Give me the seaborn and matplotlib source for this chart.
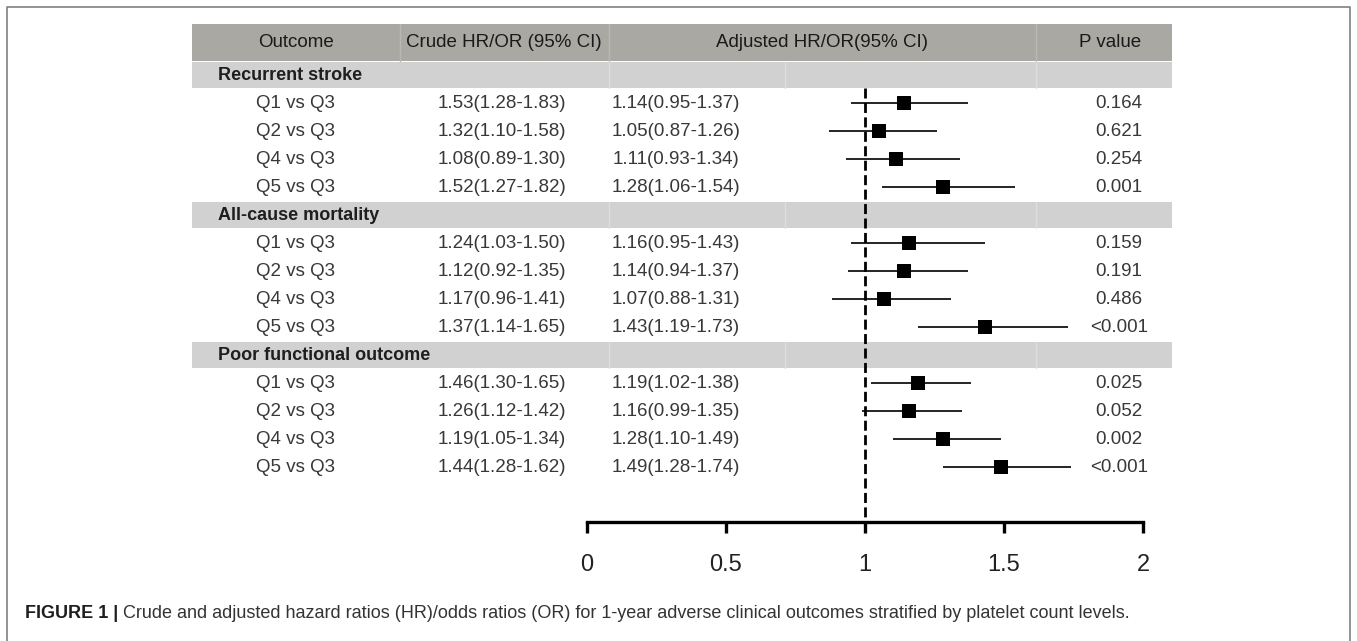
import numpy as np
import pandas as pd
import matplotlib
matplotlib.use("Agg")
import matplotlib.pyplot as plt
import seaborn as sns

# datos
groups = ["Recurrent stroke", "All-cause mortality", "Poor functional outcome"]
comparisons = ["Q1 vs Q3", "Q2 vs Q3", "Q4 vs Q3", "Q5 vs Q3"]
headers = ["Outcome", "Crude HR/OR (95% CI)", "Adjusted HR/OR(95% CI)", "P value"]

crude_hr = [1.53, 1.32, 1.08, 1.52, 1.24, 1.12, 1.17, 1.37, 1.46, 1.26, 1.19, 1.44]
crude_lo = [1.28, 1.10, 0.89, 1.27, 1.03, 0.92, 0.96, 1.14, 1.30, 1.12, 1.05, 1.28]
crude_hi = [1.83, 1.58, 1.30, 1.82, 1.50, 1.35, 1.41, 1.65, 1.65, 1.42, 1.34, 1.62]

adj_hr = [1.14, 1.05, 1.11, 1.28, 1.16, 1.14, 1.07, 1.43, 1.19, 1.16, 1.28, 1.49]
adj_lo = [0.95, 0.87, 0.93, 1.06, 0.95, 0.94, 0.88, 1.19, 1.02, 0.99, 1.10, 1.28]
adj_hi = [1.37, 1.26, 1.34, 1.54, 1.43, 1.37, 1.31, 1.73, 1.38, 1.35, 1.49, 1.74]

p_values = ["0.164", "0.621", "0.254", "0.001",
            "0.159", "0.191", "0.486", "<0.001",
            "0.025", "0.052", "0.002", "<0.001"]

x_ticks = [0, 0.5, 1, 1.5, 2]
caption_bold = "FIGURE 1 |"
caption_text = ("Crude and adjusted hazard ratios (HR)/odds ratios (OR) for 1-year adverse "
                "clinical outcomes stratified by platelet count levels.")

sns.set_theme(style="white")
plt.rcParams["font.family"] = ["Liberation Sans", "DejaVu Sans"]

W, H = 1357, 641
fig = plt.figure(figsize=(W / 100, H / 100), dpi=100)
ax = fig.add_axes([0, 0, 1, 1])
ax.set_xlim(0, W)
ax.set_ylim(H, 0)
ax.axis("off")

# posiciones verticales: filas de 28 px, la fila de grupo cuenta como una mas
step = 28
group_y = []
row_y = []
i = 0
for g in groups:
    group_y.append(75 + step * i)
    i += 1
    for c in comparisons:
        row_y.append(75 + step * i)
        i += 1
axis_y = 522

df = pd.DataFrame({
    "group": np.repeat(groups, 4),
    "comp": comparisons * 3,
    "crude": crude_hr, "crude_lo": crude_lo, "crude_hi": crude_hi,
    "adj": adj_hr, "adj_lo": adj_lo, "adj_hi": adj_hi,
    "p": p_values, "y": row_y,
})

tbl_l, tbl_r = 192, 1172
dark = "#a9a8a3"
light = "#d1d1d1"
txt = "#383838"

# cabecera
ax.fill_between([tbl_l, tbl_r], 24, 61, color=dark, lw=0)
for sx in [400, 609, 1036]:
    ax.plot([sx, sx], [24, 61], color="#b9b8b4", lw=1)
head_x = [296, 504, 822, 1110]
for hx, h in zip(head_x, headers):
    ax.text(hx, 42.5, h, ha="center", va="center", fontsize=13.5, color="#1a1a1a")

# filas de grupo
for gy, g in zip(group_y, groups):
    ax.fill_between([tbl_l, tbl_r], gy - 13, gy + 13, color=light, lw=0)
    for sx in [609, 785, 1036]:
        ax.plot([sx, sx], [gy - 13, gy + 13], color="#dedede", lw=1)
    ax.text(218, gy, g, ha="left", va="center", fontsize=13, fontweight="bold",
            color="#1e1e1e")

# texto de la tabla
for _, r in df.iterrows():
    ax.text(295, r["y"], r["comp"], ha="center", va="center", fontsize=13.5, color=txt)
    ax.text(502, r["y"], f"{r['crude']:.2f}({r['crude_lo']:.2f}-{r['crude_hi']:.2f})",
            ha="center", va="center", fontsize=13.5, color=txt)
    ax.text(676, r["y"], f"{r['adj']:.2f}({r['adj_lo']:.2f}-{r['adj_hi']:.2f})",
            ha="center", va="center", fontsize=13.5, color=txt)
    ax.text(1119, r["y"], r["p"], ha="center", va="center", fontsize=13.5, color=txt)

# marco exterior y pie de figura
ax.plot([7, 7, 1350, 1350], [H, 7, 7, H], color="#808080", lw=1.2)
t1 = ax.text(25, 614, caption_bold, ha="left", va="center", fontsize=13,
             fontweight="bold", color="#1e1e1e")
ax.annotate(" " + caption_text, xy=(1, 0.5), xycoords=t1, ha="left", va="center",
            fontsize=13, color="#333333")

# forest plot
axf = fig.add_axes([587 / W, 0, 556 / W, 1])
axf.patch.set_alpha(0)
axf.vlines(1, 88, axis_y, colors="black", lw=2, linestyles=(0, (3.6, 1.6)), zorder=2)
axf.hlines(df["y"], df["adj_lo"], df["adj_hi"], colors="black", lw=1.2, zorder=2)
sns.scatterplot(data=df, x="adj", y="y", marker="s", s=100, color="black",
                linewidth=0, legend=False, ax=axf, zorder=3)
axf.set_xlim(0, 2)
axf.set_ylim(H, 0)
axf.set_xlabel("")
axf.set_ylabel("")
axf.set_yticks([])
axf.set_xticks(x_ticks)
axf.set_xticklabels([f"{t:g}" for t in x_ticks])
for s in ["left", "right", "top"]:
    axf.spines[s].set_visible(False)
axf.spines["bottom"].set_position(("data", axis_y))
axf.spines["bottom"].set_linewidth(2.4)
axf.spines["bottom"].set_color("black")
axf.spines["bottom"].set_capstyle("projecting")
axf.tick_params(axis="x", direction="out", length=8, width=2.4, color="black",
                labelsize=17, pad=15, labelcolor="#222222", bottom=True)

fig.savefig("out.png", dpi=100)
